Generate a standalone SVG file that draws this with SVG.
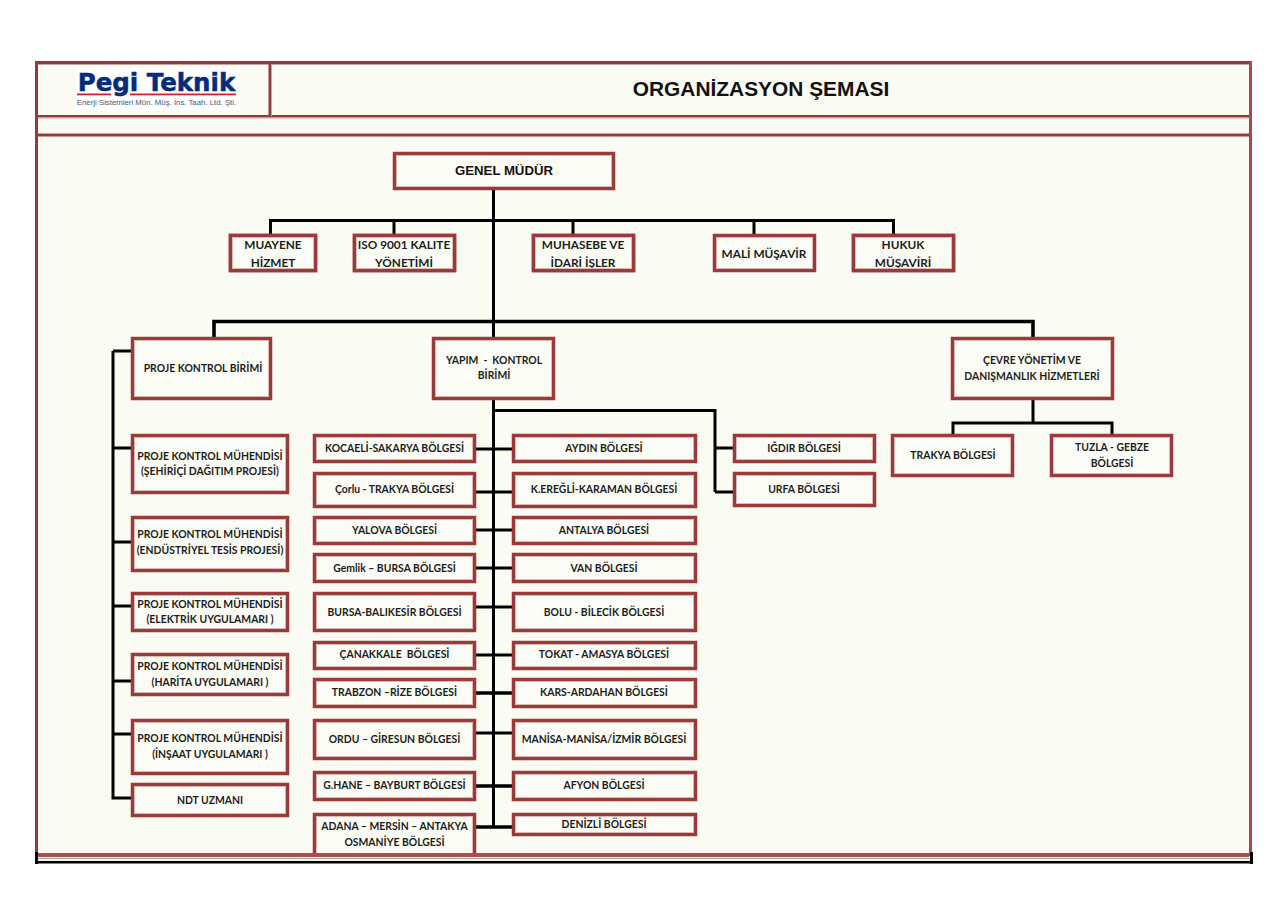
<svg xmlns="http://www.w3.org/2000/svg" width="1288" height="911" viewBox="0 0 1288 911">
<style>
.f{fill:#fbfcf5;stroke:#9b3a3a;stroke-width:3.5}
.l{fill:none;stroke:#dcb9b5;stroke-width:1}
.k{fill:none;stroke:#9b3a3a;stroke-width:3.5}
.t{font-family:"Lato","Carlito","Liberation Sans",sans-serif;font-weight:700;font-size:10.4px;fill:#1c1c1c;text-anchor:middle}
.b{font-size:11.8px}
.c{stroke:#000;stroke-width:3;fill:none}
.h{stroke:#000;stroke-width:3.6;fill:none}
.fr{fill:#933a3a}
.li{fill:#c9a5a1}
</style>
<rect width="1288" height="911" fill="#fff"/>
<g id="frame">
<rect x="37" y="63" width="1213" height="791" fill="#fafbf2"/>
<rect x="75" y="67" width="165" height="44" fill="#fff"/>
<rect class="fr" x="35" y="61" width="1217" height="3"/>
<rect class="li" x="38" y="64" width="1211" height="1"/>
<rect class="fr" x="35" y="61" width="3" height="795"/>
<rect x="1249" y="61" width="3" height="795" fill="#a24a4c"/>
<rect class="fr" x="38" y="115" width="1211" height="2.500"/>
<rect class="li" x="38" y="117.500" width="1211" height="1"/>
<rect class="fr" x="38" y="134" width="1211" height="2.500"/>
<rect class="li" x="38" y="133" width="1211" height="1"/>
<rect class="fr" x="268.500" y="64" width="2.500" height="52"/>
<rect class="li" x="271" y="64" width="1" height="52"/>
</g>
<g id="logo">
<text x="156.500" y="91" text-anchor="middle" font-family="DejaVu Sans" font-weight="700" font-size="24.500" fill="#032d7c" stroke="#032d7c" stroke-width=".5">Pegi Teknik</text>
<rect x="77" y="93.500" width="34" height="1.800" fill="#d3212e"/>
<rect x="130" y="93.500" width="106" height="1.800" fill="#d3212e"/>
<text x="156.500" y="105" text-anchor="middle" font-family="Liberation Sans" font-size="7.800" fill="#44557f">Enerji Sistemleri Mün. Müş. İns. Taah. Ltd. Şti.</text>
</g>
<text id="title" x="761" y="96" text-anchor="middle" font-family="Liberation Sans" font-weight="700" font-size="20.900" fill="#111">ORGANİZASYON ŞEMASI</text>
<g id="connectors">
<path class="c" d="M493.500 190V827M270.500 234V220.500H893.500V234M394 220V234M573 220V234M754 220V234"/>
<path class="h" d="M214 338V321.500H1033V338"/>
<path class="c" d="M113 351V798M113 351H131M113 448H131M113 542H131M113 606H131M113 681H131M113 734H131M111.500 798H131"/>
<path class="c" d="M476 449H512M476 492H512M476 530H512M476 568H512M476 607H512M476 655H512M476 733H512"/>
<path class="h" d="M476 693H512M476 786H512M476 827H512"/>
<path class="c" d="M493 410.500H715V492M715 448H733M715 492H733"/>
<path class="c" d="M1033 400V423H953V434M1033 423H1112V434"/>
<rect x="1012" y="396" width="22" height="4" fill="#000"/>
</g>
<g id="genel-mudur"><rect class="f" x="394.500" y="153.500" width="219" height="35"/><rect class="l" x="396.500" y="155.500" width="215" height="31"/><text x="504" y="174.500" text-anchor="middle" font-family="Liberation Sans" font-weight="700" font-size="13.200" fill="#111">GENEL MÜDÜR</text></g>
<g id="muayene"><rect class="f" x="230.500" y="235.500" width="85" height="35"/><text class="t b" x="273" y="248.500">MUAYENE</text><text class="t b" x="273" y="266.500">HİZMET</text><rect class="k" x="230.500" y="235.500" width="85" height="35"/><rect class="l" x="232.500" y="237.500" width="81" height="31"/></g>
<g id="iso"><rect class="f" x="354.500" y="235.500" width="100" height="35"/><text class="t b" x="404" y="248.500">ISO 9001 KALITE</text><text class="t b" x="404" y="266.500">YÖNETİMİ</text><rect class="k" x="354.500" y="235.500" width="100" height="35"/><rect class="l" x="356.500" y="237.500" width="96" height="31"/></g>
<g id="muhasebe"><rect class="f" x="533.500" y="235.500" width="100" height="35"/><text class="t b" x="583" y="248.500">MUHASEBE VE</text><text class="t b" x="583" y="266.500">İDARİ İŞLER</text><rect class="k" x="533.500" y="235.500" width="100" height="35"/><rect class="l" x="535.500" y="237.500" width="96" height="31"/></g>
<g id="mali"><rect class="f" x="714.500" y="235.500" width="100" height="35"/><rect class="l" x="716.500" y="237.500" width="96" height="31"/><text class="t b" x="764" y="257.500">MALİ MÜŞAVİR</text></g>
<g id="hukuk"><rect class="f" x="853.500" y="235.500" width="100" height="35"/><text class="t b" x="903" y="248.500">HUKUK</text><text class="t b" x="903" y="266.500">MÜŞAVİRİ</text><rect class="k" x="853.500" y="235.500" width="100" height="35"/><rect class="l" x="855.500" y="237.500" width="96" height="31"/></g>
<g id="proje-kontrol"><rect class="f" x="132.500" y="338.500" width="138" height="60"/><rect class="l" x="134.500" y="340.500" width="134" height="56"/><text class="t" x="203" y="372">PROJE KONTROL BİRİMİ</text></g>
<g id="yapim"><rect class="f" x="433.500" y="338.500" width="120" height="60"/><rect class="l" x="435.500" y="340.500" width="116" height="56"/><text class="t" x="494" y="364">YAPIM &#160;- &#160;KONTROL</text><text class="t" x="494" y="379">BİRİMİ</text></g>
<g id="cevre"><rect class="f" x="952.500" y="338.500" width="160" height="60"/><rect class="l" x="954.500" y="340.500" width="156" height="56"/><text class="t" x="1032" y="364">ÇEVRE YÖNETİM VE</text><text class="t" x="1032" y="380">DANIŞMANLIK HİZMETLERİ</text></g>
<g id="pk1"><rect class="f" x="132.500" y="435.500" width="155" height="57"/><rect class="l" x="134.500" y="437.500" width="151" height="53"/><text class="t" x="210" y="460">PROJE KONTROL MÜHENDİSİ</text><text class="t" x="210" y="475">(ŞEHİRİÇİ DAĞITIM PROJESİ)</text></g>
<g id="pk2"><rect class="f" x="132.500" y="517.500" width="155" height="53"/><rect class="l" x="134.500" y="519.500" width="151" height="49"/><text class="t" x="210" y="538">PROJE KONTROL MÜHENDİSİ</text><text class="t" x="210" y="554">(ENDÜSTRİYEL TESİS PROJESİ)</text></g>
<g id="pk3"><rect class="f" x="132.500" y="593.500" width="155" height="37"/><rect class="l" x="134.500" y="595.500" width="151" height="33"/><text class="t" x="210" y="608">PROJE KONTROL MÜHENDİSİ</text><text class="t" x="210" y="623">(ELEKTRİK UYGULAMARI )</text></g>
<g id="pk4"><rect class="f" x="132.500" y="654.500" width="155" height="40"/><rect class="l" x="134.500" y="656.500" width="151" height="36"/><text class="t" x="210" y="670">PROJE KONTROL MÜHENDİSİ</text><text class="t" x="210" y="686">(HARİTA UYGULAMARI )</text></g>
<g id="pk5"><rect class="f" x="132.500" y="720.500" width="155" height="53"/><rect class="l" x="134.500" y="722.500" width="151" height="49"/><text class="t" x="210" y="742">PROJE KONTROL MÜHENDİSİ</text><text class="t" x="210" y="758">(İNŞAAT UYGULAMARI )</text></g>
<g id="ndt"><rect class="f" x="132.500" y="784.500" width="155" height="31"/><rect class="l" x="134.500" y="786.500" width="151" height="27"/><text class="t" x="210" y="804">NDT UZMANI</text></g>
<g id="kocaeli"><rect class="f" x="314.500" y="435.500" width="160" height="26"/><rect class="l" x="316.500" y="437.500" width="156" height="22"/><text class="t" x="394.500" y="452">KOCAELİ-SAKARYA BÖLGESİ</text></g>
<g id="corlu"><rect class="f" x="314.500" y="473.500" width="160" height="33"/><rect class="l" x="316.500" y="475.500" width="156" height="29"/><text class="t" x="394.500" y="493">Çorlu - TRAKYA BÖLGESİ</text></g>
<g id="yalova"><rect class="f" x="314.500" y="517.500" width="160" height="26"/><rect class="l" x="316.500" y="519.500" width="156" height="22"/><text class="t" x="394.500" y="534">YALOVA BÖLGESİ</text></g>
<g id="gemlik"><rect class="f" x="314.500" y="554.500" width="160" height="27"/><rect class="l" x="316.500" y="556.500" width="156" height="23"/><text class="t" x="394.500" y="572">Gemlik – BURSA BÖLGESİ</text></g>
<g id="bursa"><rect class="f" x="314.500" y="593.500" width="160" height="37"/><rect class="l" x="316.500" y="595.500" width="156" height="33"/><text class="t" x="394.500" y="616">BURSA-BALIKESİR BÖLGESİ</text></g>
<g id="canakkale"><rect class="f" x="314.500" y="642.500" width="160" height="26"/><rect class="l" x="316.500" y="644.500" width="156" height="22"/><text class="t" x="394.500" y="658">ÇANAKKALE &#160;BÖLGESİ</text></g>
<g id="trabzon"><rect class="f" x="314.500" y="679.500" width="160" height="27"/><rect class="l" x="316.500" y="681.500" width="156" height="23"/><text class="t" x="394.500" y="696">TRABZON –RİZE BÖLGESİ</text></g>
<g id="ordu"><rect class="f" x="314.500" y="720.500" width="160" height="38"/><rect class="l" x="316.500" y="722.500" width="156" height="34"/><text class="t" x="394.500" y="743">ORDU – GİRESUN BÖLGESİ</text></g>
<g id="ghane"><rect class="f" x="314.500" y="772.500" width="160" height="27"/><rect class="l" x="316.500" y="774.500" width="156" height="23"/><text class="t" x="394.500" y="789">G.HANE – BAYBURT BÖLGESİ</text></g>
<g id="adana"><rect class="f" x="314.500" y="814.500" width="160" height="44"/><rect class="l" x="316.500" y="816.500" width="156" height="40"/><text class="t" x="394.500" y="830">ADANA – MERSİN – ANTAKYA</text><text class="t" x="394.500" y="846">OSMANİYE BÖLGESİ</text></g>
<g id="aydin"><rect class="f" x="513.500" y="435.500" width="182" height="26"/><rect class="l" x="515.500" y="437.500" width="178" height="22"/><text class="t" x="604" y="452">AYDIN BÖLGESİ</text></g>
<g id="eregli"><rect class="f" x="513.500" y="473.500" width="182" height="33"/><rect class="l" x="515.500" y="475.500" width="178" height="29"/><text class="t" x="604" y="493">K.EREĞLİ-KARAMAN BÖLGESİ</text></g>
<g id="antalya"><rect class="f" x="513.500" y="517.500" width="182" height="26"/><rect class="l" x="515.500" y="519.500" width="178" height="22"/><text class="t" x="604" y="534">ANTALYA BÖLGESİ</text></g>
<g id="van"><rect class="f" x="513.500" y="554.500" width="182" height="27"/><rect class="l" x="515.500" y="556.500" width="178" height="23"/><text class="t" x="604" y="572">VAN BÖLGESİ</text></g>
<g id="bolu"><rect class="f" x="513.500" y="593.500" width="182" height="37"/><rect class="l" x="515.500" y="595.500" width="178" height="33"/><text class="t" x="604" y="616">BOLU - BİLECİK BÖLGESİ</text></g>
<g id="tokat"><rect class="f" x="513.500" y="642.500" width="182" height="26"/><rect class="l" x="515.500" y="644.500" width="178" height="22"/><text class="t" x="604" y="658">TOKAT - AMASYA BÖLGESİ</text></g>
<g id="kars"><rect class="f" x="513.500" y="679.500" width="182" height="27"/><rect class="l" x="515.500" y="681.500" width="178" height="23"/><text class="t" x="604" y="696">KARS-ARDAHAN BÖLGESİ</text></g>
<g id="manisa"><rect class="f" x="513.500" y="720.500" width="182" height="38"/><rect class="l" x="515.500" y="722.500" width="178" height="34"/><text class="t" x="604" y="743">MANİSA-MANİSA/İZMİR BÖLGESİ</text></g>
<g id="afyon"><rect class="f" x="513.500" y="772.500" width="182" height="27"/><rect class="l" x="515.500" y="774.500" width="178" height="23"/><text class="t" x="604" y="789">AFYON BÖLGESİ</text></g>
<g id="denizli"><rect class="f" x="513.500" y="814.500" width="182" height="20"/><rect class="l" x="515.500" y="816.500" width="178" height="16"/><text class="t" x="604" y="828">DENİZLİ BÖLGESİ</text></g>
<g id="igdir"><rect class="f" x="734.500" y="435.500" width="140" height="26"/><rect class="l" x="736.500" y="437.500" width="136" height="22"/><text class="t" x="804" y="452">IĞDIR BÖLGESİ</text></g>
<g id="urfa"><rect class="f" x="734.500" y="473.500" width="140" height="32"/><rect class="l" x="736.500" y="475.500" width="136" height="28"/><text class="t" x="804" y="493">URFA BÖLGESİ</text></g>
<g id="trakya"><rect class="f" x="892.500" y="435.500" width="120" height="40"/><rect class="l" x="894.500" y="437.500" width="116" height="36"/><text class="t" x="953" y="459">TRAKYA BÖLGESİ</text></g>
<g id="tuzla"><rect class="f" x="1051.500" y="435.500" width="120" height="40"/><rect class="l" x="1053.500" y="437.500" width="116" height="36"/><text class="t" x="1112" y="451">TUZLA - GEBZE</text><text class="t" x="1112" y="467">BÖLGESİ</text></g>
<g id="frame-bottom">
<rect x="38" y="853" width="1211" height="4" fill="#a84f50"/>
<rect x="35" y="857" width="1217" height="4" fill="#f4f2ec"/>
<rect x="38" y="858" width="1211" height="1" fill="#b9a9a5"/>
<rect x="35" y="861" width="1218" height="2.500" fill="#000"/>
<rect x="35" y="852" width="3" height="12" fill="#000"/>
<rect x="1250" y="852" width="3" height="12" fill="#000"/>
</g>
</svg>
